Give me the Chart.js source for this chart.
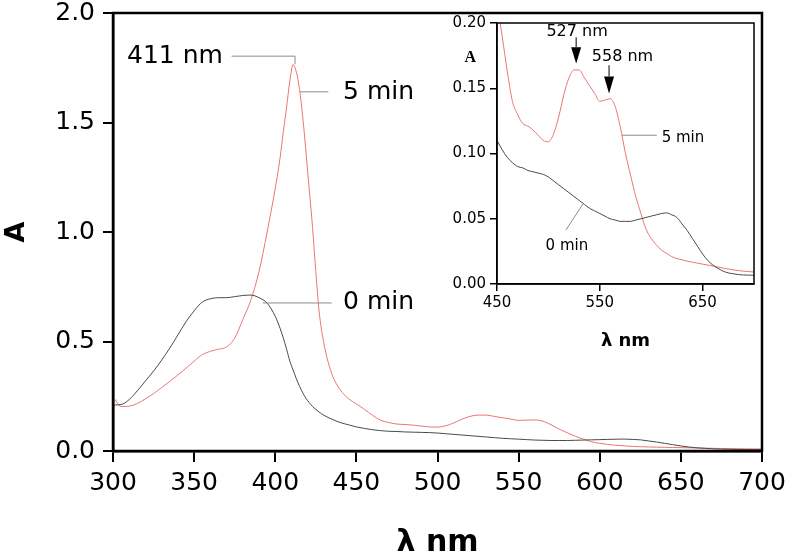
<!DOCTYPE html>
<html>
<head>
<meta charset="utf-8">
<script src="https://cdn.jsdelivr.net/npm/chart.js@4.4.1/dist/chart.umd.min.js"></script>
<style>
  html, body { margin: 0; padding: 0; background: #fff; }
  #wrap { position: relative; width: 786px; height: 556px; background: #fff; }
  #wrap canvas { position: absolute; left: 0; top: 0; }
</style>
</head>
<body>
<div id="wrap">
  <canvas id="mainChart" width="786" height="556"></canvas>
  <canvas id="insetChart" width="786" height="556"></canvas>
</div>
<script>
// ===== DATA =====
const wavelengths = [
  300, 305, 310, 315, 320, 325, 330, 335, 340, 345, 350, 355, 360, 365, 370, 375, 380, 385, 390, 395, 400,
  403, 405, 407, 409, 411, 413, 415, 417, 419, 421, 423, 425, 427,
  430, 435, 440, 445, 450, 455, 460, 465, 470, 475, 480, 485, 490, 495, 500, 505, 510, 515, 520, 525,
  530, 535, 540, 545, 550, 555, 560, 565, 570, 575, 580, 585, 590, 595, 600, 605, 610, 615, 620, 625,
  630, 635, 640, 645, 650, 655, 660, 665, 670, 675, 680, 685, 690, 695, 700
];

const abs0min = [
  0.21, 0.212, 0.235, 0.275, 0.32, 0.365, 0.415, 0.47, 0.53, 0.59, 0.64, 0.68, 0.695, 0.70, 0.70, 0.705, 0.71, 0.712, 0.70, 0.675, 0.615,
  0.56, 0.515, 0.465, 0.41, 0.37, 0.33, 0.295, 0.265, 0.24, 0.22, 0.203, 0.19, 0.178,
  0.163, 0.145, 0.13, 0.12, 0.11, 0.103, 0.097, 0.093, 0.090, 0.089, 0.087, 0.086, 0.085, 0.084, 0.082, 0.079, 0.076, 0.073, 0.070, 0.067,
  0.064, 0.061, 0.058, 0.056, 0.054, 0.052, 0.050, 0.049, 0.048, 0.048, 0.048, 0.049, 0.050, 0.051, 0.052, 0.053, 0.054, 0.0545, 0.053, 0.051,
  0.046, 0.041, 0.035, 0.029, 0.023, 0.018, 0.0145, 0.012, 0.0098, 0.0085, 0.0078, 0.0072, 0.0069, 0.0068, 0.0067
];

const abs5min = [
  0.25, 0.203, 0.205, 0.217, 0.238, 0.262, 0.29, 0.318, 0.347, 0.378, 0.41, 0.44, 0.455, 0.465, 0.475, 0.515, 0.60, 0.69, 0.82, 1.00, 1.20,
  1.34, 1.46, 1.57, 1.69, 1.765, 1.73, 1.65, 1.52, 1.36, 1.19, 1.02, 0.82, 0.64,
  0.49, 0.35, 0.28, 0.24, 0.215, 0.19, 0.163, 0.14, 0.13, 0.123, 0.121, 0.118, 0.114, 0.11, 0.109, 0.115, 0.128, 0.145, 0.158, 0.164,
  0.164, 0.158, 0.152, 0.146, 0.14, 0.141, 0.142, 0.136, 0.12, 0.10, 0.083, 0.067, 0.054, 0.042, 0.035, 0.030, 0.026, 0.0235, 0.021, 0.0195,
  0.0185, 0.0175, 0.0167, 0.016, 0.0152, 0.0145, 0.0138, 0.013, 0.0122, 0.0115, 0.0108, 0.0103, 0.0098, 0.0095, 0.0092
];

const mainXTicks  = [300, 350, 400, 450, 500, 550, 600, 650, 700];
const mainYTicks  = [0, 0.5, 1.0, 1.5, 2.0];
const insetXTicks = [450, 550, 650];
const insetYTicks = [0, 0.05, 0.10, 0.15, 0.20];

const insetStart = 450;

// ===== HELPERS =====
function points(values, from) {
  const out = [];
  wavelengths.forEach((w, i) => { if (w >= from) out.push({ x: w, y: values[i] }); });
  return out;
}

function series(label, values, color, from) {
  return {
    label,
    data: points(values, from),
    borderColor: color,
    borderWidth: 1,
    pointRadius: 0,
    tension: 0.3,
    cubicInterpolationMode: "monotone"
  };
}

const fixed = (list) => (s) => { s.ticks = list.map(v => ({ value: v })); };

// pin the axis box size and drop the extra label padding chart.js adds
const fitX = (h) => (s) => { s.height = h; s.paddingLeft = 0; s.paddingRight = 0; };
const fitY = (w) => (s) => { s.width = w; s.paddingTop = 0; s.paddingBottom = 0; };

// frame, leader lines, arrows and labels, placed in data coordinates
const notes = {
  id: "notes",
  afterDatasetsDraw(chart, args, opts) {
    const { ctx, chartArea: a, scales: { x, y } } = chart;
    const px = v => x.getPixelForValue(v);
    const py = v => y.getPixelForValue(v);
    ctx.save();
    ctx.strokeStyle = "#000";
    ctx.lineWidth = opts.frame;
    ctx.strokeRect(a.left, a.top, a.width, a.height);

    ctx.strokeStyle = "#8c8c8c";
    ctx.lineWidth = 1;
    (opts.leaders || []).forEach(pts => {
      ctx.beginPath();
      pts.forEach(([vx, vy], i) => i ? ctx.lineTo(px(vx), py(vy)) : ctx.moveTo(px(vx), py(vy)));
      ctx.stroke();
    });

    (opts.arrows || []).forEach(ar => {
      const X = px(ar.x);
      ctx.strokeStyle = "#000";
      ctx.beginPath();
      ctx.moveTo(X, py(ar.from));
      ctx.lineTo(X, py(ar.head));
      ctx.stroke();
      ctx.fillStyle = "#000";
      ctx.beginPath();
      ctx.moveTo(X - 5, py(ar.head));
      ctx.lineTo(X + 5, py(ar.head));
      ctx.lineTo(X, py(ar.tip));
      ctx.closePath();
      ctx.fill();
    });

    ctx.fillStyle = "#000";
    ctx.textBaseline = "middle";
    (opts.texts || []).forEach(t => {
      ctx.font = t.font;
      ctx.textAlign = t.align;
      ctx.fillText(t.text, px(t.x), py(t.y));
    });
    ctx.restore();
  }
};

const black = "#4a4a4a";
const red = "#ee7474";
const bigFont = "25px 'DejaVu Sans'";
const smallFont = "15px 'DejaVu Sans'";

// ===== MAIN CHART =====
new Chart(document.getElementById("mainChart"), {
  type: "line",
  data: {
    datasets: [
      series("0 min", abs0min, black, 0),
      series("5 min", abs5min, red, 0)
    ]
  },
  options: {
    responsive: false,
    animation: false,
    events: [],
    layout: { padding: { left: 0, top: 13, right: 24, bottom: 0 } },
    plugins: {
      legend: { display: false },
      tooltip: { enabled: false },
      notes: {
        frame: 2.5,
        leaders: [
          [[373.1, 1.803], [412.2, 1.803], [412.2, 1.766]],
          [[415.2, 1.64], [432.7, 1.64]],
          [[392.4, 0.676], [434.8, 0.676]]
        ],
        texts: [
          { text: "411 nm", x: 367.7, y: 1.80, align: "right", font: bigFont },
          { text: "5 min", x: 441.8, y: 1.636, align: "left", font: bigFont },
          { text: "0 min", x: 441.8, y: 0.676, align: "left", font: bigFont }
        ]
      }
    },
    scales: {
      x: {
        type: "linear",
        min: 300,
        max: 700,
        afterBuildTicks: fixed(mainXTicks),
        afterFit: fitX(105),
        grid: { drawOnChartArea: false, tickLength: 11, color: "#000", lineWidth: 2 },
        border: { color: "#000", width: 2.5 },
        ticks: { color: "#000", padding: 9, autoSkip: false, maxRotation: 0,
                 font: { family: "DejaVu Sans", size: 25, lineHeight: 1 } },
        title: { display: true, text: "λ nm", color: "#000",
                 font: { family: "DejaVu Sans", size: 30, weight: "bold", lineHeight: 0.8 },
                 padding: { top: 0, bottom: 1 } }
      },
      y: {
        min: 0,
        max: 2,
        afterBuildTicks: fixed(mainYTicks),
        afterFit: fitY(113),
        grid: { drawOnChartArea: false, tickLength: 10, color: "#000", lineWidth: 2 },
        border: { color: "#000", width: 2.5 },
        ticks: { color: "#000", padding: 8, callback: v => v.toFixed(1),
                 font: { family: "DejaVu Sans", size: 25, lineHeight: 1 } },
        title: { display: true, text: "A", color: "#000",
                 font: { family: "DejaVu Sans", size: 27, weight: "bold" },
                 padding: { top: 1, bottom: 0 } }
      }
    }
  },
  plugins: [notes]
});

// ===== INSET =====
new Chart(document.getElementById("insetChart"), {
  type: "line",
  data: {
    datasets: [
      series("0 min", abs0min, black, insetStart),
      series("5 min", abs5min, red, insetStart)
    ]
  },
  options: {
    responsive: false,
    animation: false,
    events: [],
    layout: { padding: { left: 440, top: 23, right: 32, bottom: 204 } },
    plugins: {
      legend: { display: false },
      tooltip: { enabled: false },
      notes: {
        frame: 1.5,
        leaders: [
          [[571.4, 0.114], [605.4, 0.114]],
          [[533.5, 0.0612], [517, 0.0413]]
        ],
        arrows: [
          { x: 527, from: 0.189, head: 0.1814, tip: 0.169 },
          { x: 559, from: 0.1676, head: 0.159, tip: 0.146 }
        ],
        texts: [
          { text: "527 nm", x: 527.9, y: 0.1936, align: "center", font: "16px 'DejaVu Sans'" },
          { text: "558 nm", x: 572.1, y: 0.174, align: "center", font: "16px 'DejaVu Sans'" },
          { text: "5 min", x: 610.2, y: 0.112, align: "left", font: smallFont },
          { text: "0 min", x: 518, y: 0.0293, align: "center", font: smallFont },
          { text: "A", x: 424, y: 0.173, align: "center", font: "bold 16px 'Liberation Serif'" }
        ]
      }
    },
    scales: {
      x: {
        type: "linear",
        min: 450,
        max: 700,
        afterBuildTicks: fixed(insetXTicks),
        afterFit: fitX(68),
        grid: { drawOnChartArea: false, tickLength: 7, color: "#000", lineWidth: 1.5 },
        border: { color: "#000", width: 1.5 },
        ticks: { color: "#000", padding: 5, autoSkip: false, maxRotation: 0,
                 font: { family: "DejaVu Sans", size: 15, lineHeight: 1 } },
        title: { display: true, text: "λ nm", color: "#000",
                 font: { family: "DejaVu Sans", size: 18, weight: "bold", lineHeight: 1 },
                 padding: { top: 0, bottom: 2 } }
      },
      y: {
        min: 0,
        max: 0.2,
        afterBuildTicks: fixed(insetYTicks),
        afterFit: fitY(57),
        grid: { drawOnChartArea: false, tickLength: 7, color: "#000", lineWidth: 1.5 },
        border: { color: "#000", width: 1.5 },
        ticks: { color: "#000", padding: 4, callback: v => v.toFixed(2),
                 font: { family: "DejaVu Sans", size: 15, lineHeight: 1 } }
      }
    }
  },
  plugins: [notes]
});
</script>
</body>
</html>
